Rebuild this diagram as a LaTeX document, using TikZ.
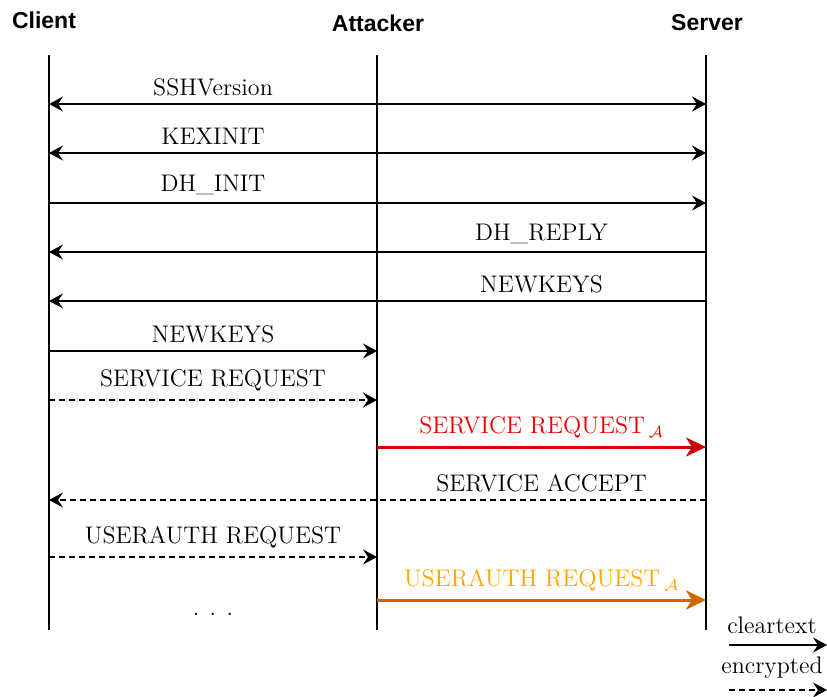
\documentclass[tikz,border=0pt]{standalone}
\usepackage{fontspec}
\newfontfamily\hdrfont{Liberation Sans}
\usetikzlibrary{arrows.meta}
\definecolor{atkred}{RGB}{204,0,0}
\definecolor{txtred}{RGB}{235,0,0}
\definecolor{atkorange}{RGB}{204,102,0}
\definecolor{txtorange}{RGB}{255,165,0}
\tikzset{
  hdr/.style={font=\hdrfont\bfseries\fontsize{11.5}{13}\selectfont, inner sep=0pt},
  life/.style={line width=0.8pt},
  msg/.style={line width=0.8pt, -{Stealth[length=7pt,width=7.5pt,inset=2.5pt]}},
  bimsg/.style={line width=0.8pt, {Stealth[length=7pt,width=7.5pt,inset=2.5pt]}-{Stealth[length=7pt,width=7.5pt,inset=2.5pt]}},
  enc/.style={dash pattern=on 3pt off 2pt},
  atk/.style={line width=1.5pt, -{Stealth[length=10pt,width=9.5pt,inset=3pt]}},
  lbl/.style={above, inner sep=0pt, yshift=4pt, font=\fontsize{12}{14}\selectfont},
  leglbl/.style={lbl, yshift=1.5pt, xshift=-3pt},
}
\begin{document}
\begin{tikzpicture}[x=0.5pt,y=-0.5pt]
\useasboundingbox (0,0) rectangle (827,697);
% headers
\node[hdr] (hc) at (44,20) {Client};
\node[hdr] (ha) at (378,23) {Attacker};
\node[hdr] (hs) at (707,23) {Server};
% lifelines
\coordinate (ct) at (49,55);  \coordinate (cb) at (49,630);
\coordinate (at) at (377,55); \coordinate (ab) at (377,630);
\coordinate (st) at (706,55); \coordinate (sb) at (706,630);
\draw[life] (ct) -- (cb);
\draw[life] (at) -- (ab);
\draw[life] (st) -- (sb);
% message points
\foreach \n/\y in {1/104,2/153,3/203,4/252,5/301,6/351,7/400,8/447,9/500,10/557,11/600}{
  \coordinate (c\n) at (49,\y);
  \coordinate (a\n) at (377,\y);
  \coordinate (s\n) at (706,\y);
}
\draw[bimsg] (c1) -- (s1);
\path (c1) -- node[lbl] (l1) {SSHVersion} (a1);
\draw[bimsg] (c2) -- (s2);
\path (c2) -- node[lbl] (l2) {KEXINIT} (a2);
\draw[msg] (c3) -- (s3);
\path (c3) -- node[lbl] (l3) {DH\_INIT} (a3);
\draw[msg] (s4) -- (c4);
\path (a4) -- node[lbl] (l4) {DH\_REPLY} (s4);
\draw[msg] (s5) -- (c5);
\path (a5) -- node[lbl] (l5) {NEWKEYS} (s5);
\draw[msg] (c6) -- (a6);
\path (c6) -- node[lbl] (l6) {NEWKEYS} (a6);
\draw[msg,enc] (c7) -- (a7);
\path (c7) -- node[lbl] (l7) {SERVICE REQUEST} (a7);
\draw[atk,atkred] (a8) -- (s8);
\path (a8) -- node[lbl,text=txtred] (l8) {SERVICE REQUEST\,$_{\mathcal{A}}$} (s8);
\draw[msg,enc] (s9) -- (c9);
\path (a9) -- node[lbl] (l9) {SERVICE ACCEPT} (s9);
\draw[msg,enc] (c10) -- (a10);
\path (c10) -- node[lbl] (l10) {USERAUTH REQUEST} (a10);
\draw[atk,atkorange] (a11) -- (s11);
\path (a11) -- node[lbl,text=txtorange] (l11) {USERAUTH REQUEST\,$_{\mathcal{A}}$} (s11);
\node[font=\fontsize{12}{14}\selectfont, anchor=base] (dots) at (213,615) {. . .};
% legend
\coordinate (lg1a) at (729,645); \coordinate (lg1b) at (827,645);
\coordinate (lg2a) at (729,690); \coordinate (lg2b) at (827,690);
\draw[msg] (lg1a) -- (lg1b);
\path (lg1a) -- node[leglbl] (lc) {cleartext} (lg1b);
\draw[msg,enc] (lg2a) -- (lg2b);
\path (lg2a) -- node[leglbl] (le) {encrypted} (lg2b);
\end{tikzpicture}
\end{document}
